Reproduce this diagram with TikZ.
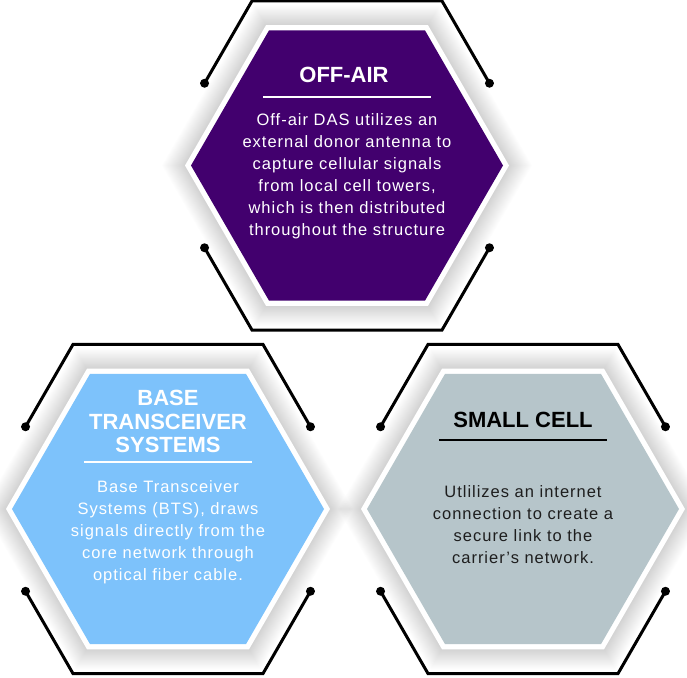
\documentclass[tikz,border=0pt]{standalone}
\usepackage{fontspec}
\setmainfont{Liberation Sans}
\newfontfamily\bodyfont[LetterSpace=6]{Liberation Sans}

\definecolor{offairpurple}{RGB}{66,0,110}
\definecolor{btsblue}{RGB}{125,194,251}
\definecolor{smallgray}{RGB}{182,197,202}
\definecolor{bodydark}{RGB}{30,30,30}

% flat-topped hexagon of circumradius #1
\newcommand{\hexpath}[1]{(0:#1) -- (60:#1) -- (120:#1) -- (180:#1) -- (240:#1) -- (300:#1) -- cycle}

% shadow, white rim, coloured face and the two outline brackets
\newcommand{\hexcard}[1]{%
    \foreach \k in {1,...,22}{
        \pgfmathsetmacro{\rr}{162+1.05*\k}
        \fill[black, opacity=0.0075] \hexpath{\rr};
    }
    \fill[white] \hexpath{162};
    \fill[#1] \hexpath{156};
    \draw[outline] (210:164.5) -- (240:190) -- (300:190) -- (330:164.5);
    \draw[outline] (150:164.5) -- (120:190) -- (60:190) -- (30:164.5);
    \foreach \a in {30,150,210,330}
        \fill (\a:164.5) circle (4.5pt);
}

\begin{document}
\begin{tikzpicture}[x=1pt, y=-1pt,
        outline/.style={line width=3pt},
        cardtitle/.style={font=\fontsize{22}{23.5}\selectfont\bfseries, align=center, inner sep=0pt},
        cardtext/.style={font=\bodyfont\fontsize{16.5}{22}\selectfont, align=center, inner sep=0pt},
        rulewhite/.style={white, line width=1.5pt},
        ruleblack/.style={black, line width=1.5pt}]
    \useasboundingbox (0,0) rectangle (687,677);

    % Off-air (top)
    \begin{scope}[shift={(347,165.5)}]
        \hexcard{offairpurple}
        \node[cardtitle, text=white] (offair-title) at (-3,-90.5) {OFF-AIR};
        \draw[rulewhite] (-84,-68.5) -- (84,-68.5);
        \node[cardtext, text=white] (offair-text) at (0,10.5)
            {Off-air DAS utilizes an\\external donor antenna to\\capture cellular signals\\from local cell towers,\\which is then distributed\\throughout the structure};
    \end{scope}

    % Base transceiver systems (bottom left)
    \begin{scope}[shift={(168,509)}]
        \hexcard{btsblue}
        \node[cardtitle, text=white] (bts-title) at (0,-87.5) {BASE\\TRANSCEIVER\\SYSTEMS};
        \draw[rulewhite] (-84,-47) -- (84,-47);
        \node[cardtext, text=white] (bts-text) at (0,23)
            {Base Transceiver\\Systems (BTS), draws\\signals directly from the\\core network through\\optical fiber cable.};
    \end{scope}

    % Small cell (bottom right)
    \begin{scope}[shift={(523,509)}]
        \hexcard{smallgray}
        \node[cardtitle, text=black] (small-title) at (0,-89) {SMALL CELL};
        \draw[ruleblack] (-84,-69) -- (84,-69);
        \node[cardtext, text=bodydark] (small-text) at (0,15.5)
            {Utlilizes an internet\\connection to create a\\secure link to the\\carrier’s network.};
    \end{scope}
\end{tikzpicture}
\end{document}
